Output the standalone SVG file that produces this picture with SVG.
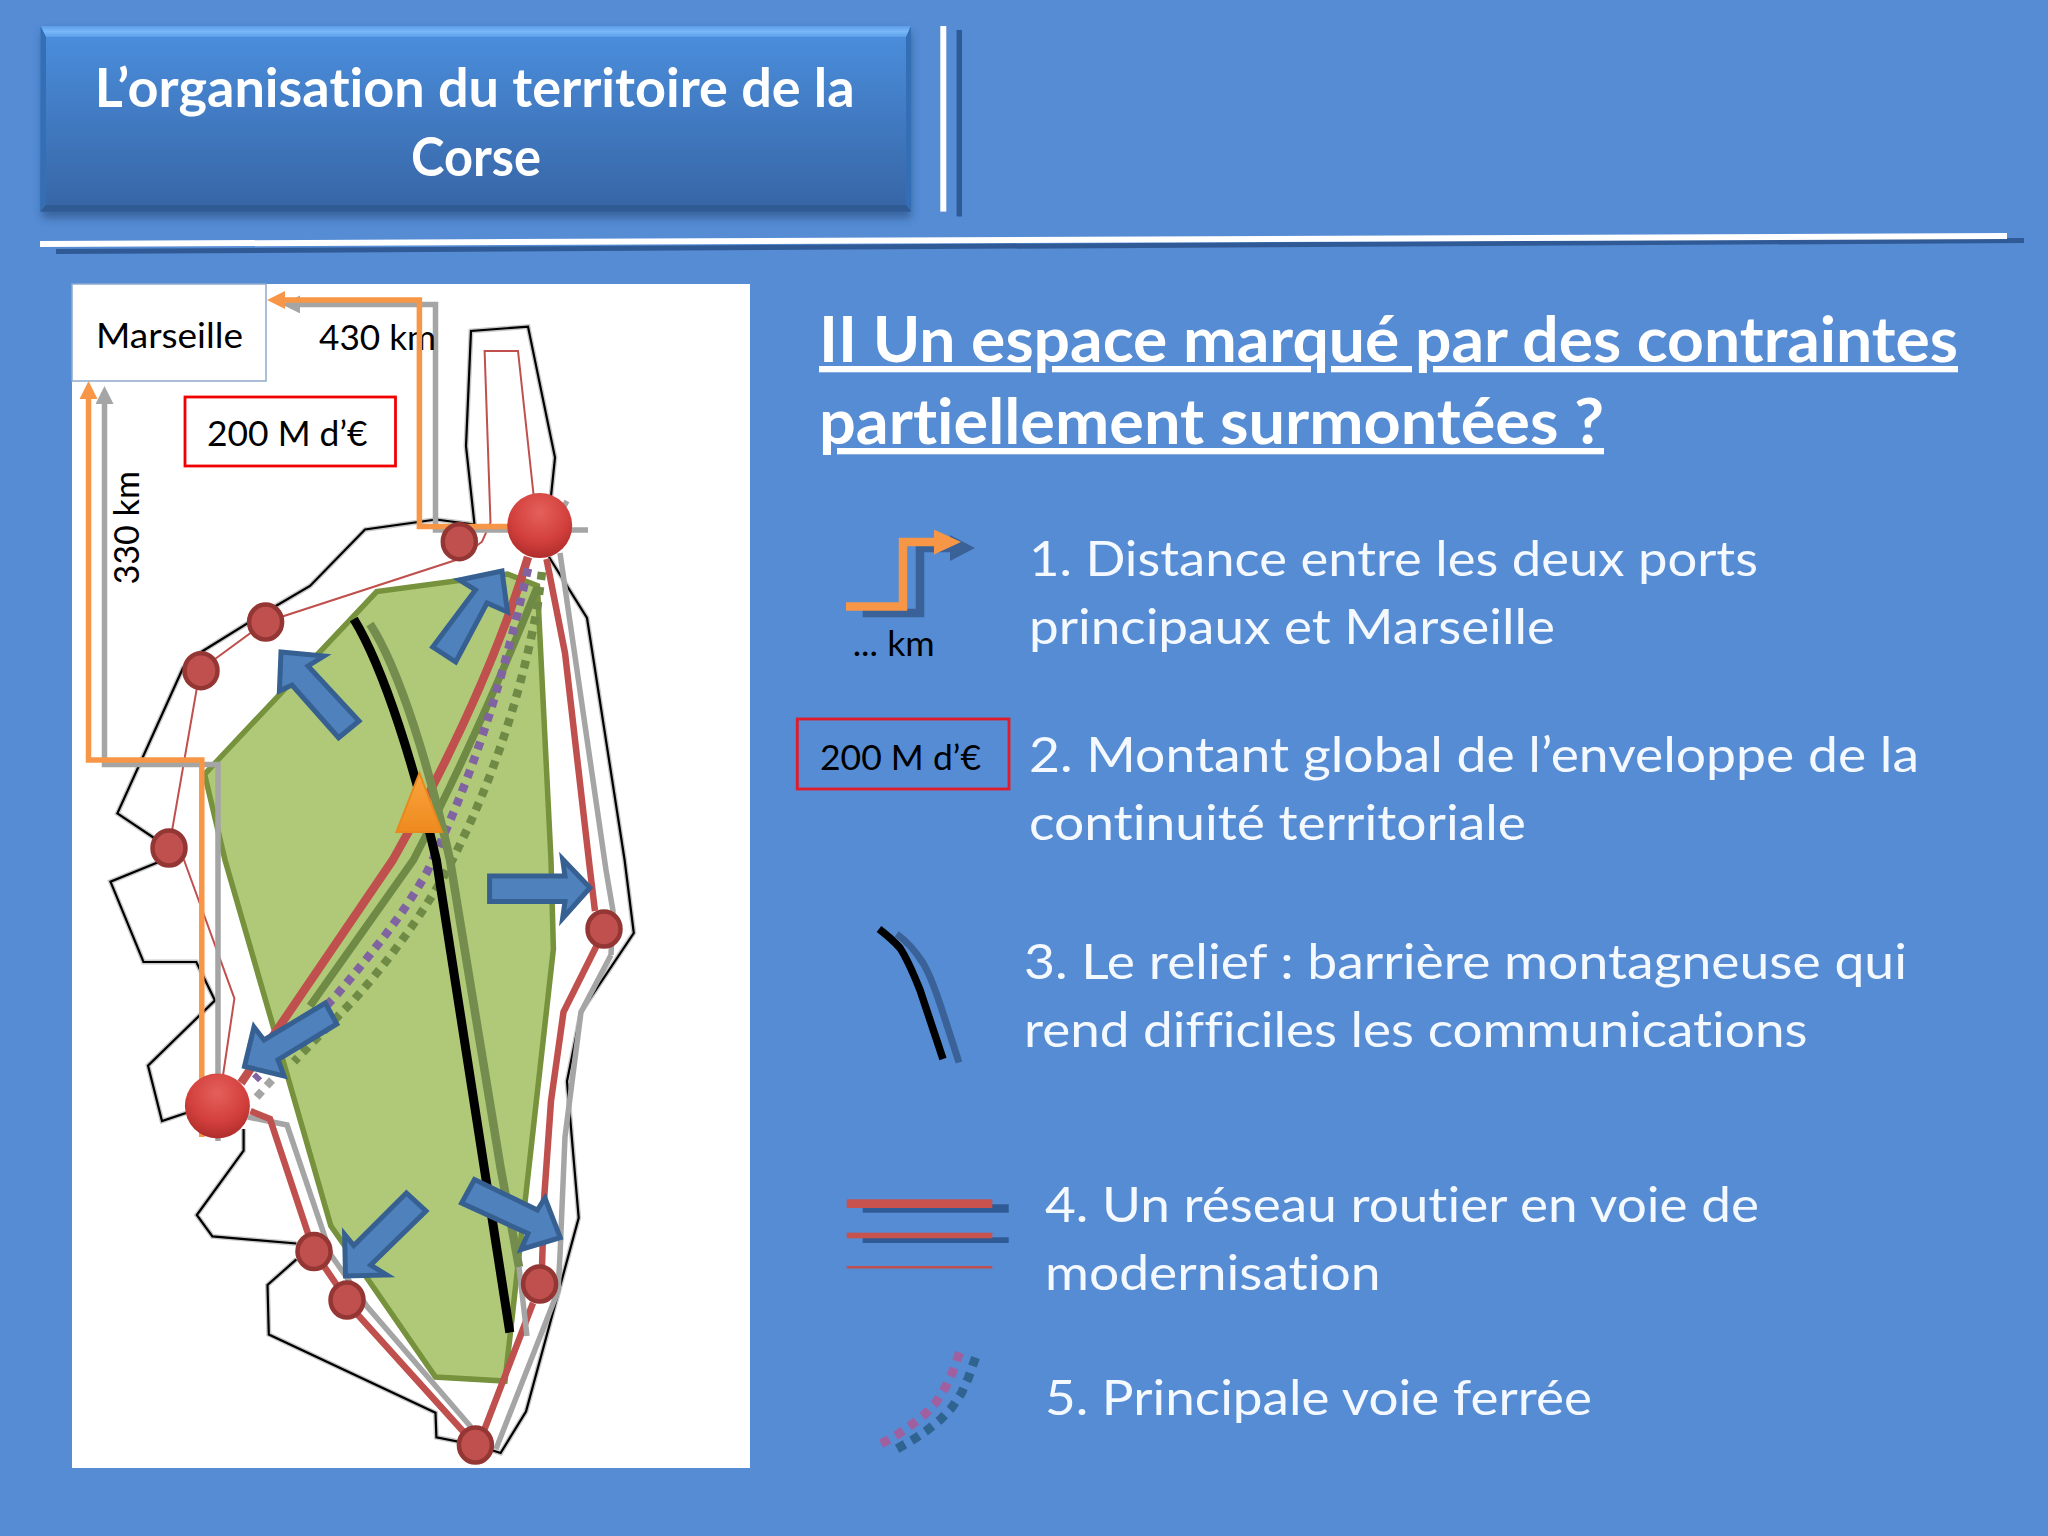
<svg xmlns="http://www.w3.org/2000/svg" width="2048" height="1536" viewBox="0 0 2048 1536">
<style>
text{font-family:"Lato","Liberation Sans",sans-serif;font-variant-ligatures:none}
.hd{font-size:53px;font-weight:700;fill:#fff}
.ti{font-size:63px;font-weight:700;fill:#fff;text-decoration:underline}
.li{font-size:48px;fill:#f4f8ff}
.sm{font-size:35px;fill:#000}
.out{fill:none;stroke:#000;stroke-width:2.2;stroke-linejoin:miter}
.halo{fill:none;stroke:#c8c8c8;stroke-width:5}
.rd{fill:none;stroke:#C0504D;stroke-width:6.5;stroke-linejoin:miter}
.rw{fill:none;stroke:#C0504D;stroke-width:8.5}
.rt{fill:none;stroke:#C0504D;stroke-width:2}
.gy{fill:none;stroke:#A5A5A5;stroke-width:5.5}
.ol{fill:none;stroke:#6F8A45;stroke-width:7.5}
.pu{fill:none;stroke:#8064A2;stroke-width:8.5;stroke-dasharray:8 7}
.od{fill:none;stroke:#6F8A45;stroke-width:8.5;stroke-dasharray:8 7}
.ar{fill:#4F81BD;stroke:#376092;stroke-width:5;stroke-linejoin:miter}
.nd{fill:#C0504D;stroke:#943634;stroke-width:4.5}
.pt{fill:url(#port)}
.red{fill:none;stroke:#F00000;stroke-width:2.8}
</style>
<defs>
<linearGradient id="hdg" x1="0" y1="0" x2="0" y2="1"><stop offset="0" stop-color="#4B8FDE"/><stop offset="1" stop-color="#3765A5"/></linearGradient>
<linearGradient id="bev" x1="0" y1="0" x2="0" y2="1"><stop offset="0" stop-color="#5C9CE8"/><stop offset="0.5" stop-color="#78B8F8"/><stop offset="1" stop-color="#5C9EEA"/></linearGradient>
<linearGradient id="tri" x1="0" y1="0" x2="0" y2="1"><stop offset="0" stop-color="#F9A53F"/><stop offset="1" stop-color="#EE8A1E"/></linearGradient>
<radialGradient id="port" cx="0.5" cy="0.3" r="0.75"><stop offset="0" stop-color="#E5605A"/><stop offset="0.6" stop-color="#D23F3C"/><stop offset="1" stop-color="#A82A28"/></radialGradient>
<filter id="sh" x="-5%" y="-10%" width="110%" height="125%"><feGaussianBlur stdDeviation="4"/></filter>
<marker id="mo" markerUnits="userSpaceOnUse" markerWidth="18" markerHeight="18" viewBox="0 0 18 18" refX="0" refY="9" orient="auto"><path d="M0 0L18 9L0 18Z" fill="#F79646"/></marker>
<marker id="mg" markerUnits="userSpaceOnUse" markerWidth="18" markerHeight="18" viewBox="0 0 18 18" refX="0" refY="9" orient="auto"><path d="M0 0L18 9L0 18Z" fill="#A5A5A5"/></marker>
<marker id="lo" markerUnits="userSpaceOnUse" markerWidth="27" markerHeight="25" viewBox="0 0 27 25" refX="0" refY="12.500" orient="auto"><path d="M0 0L27 12.500L0 25Z" fill="#F79646"/></marker>
<marker id="ld" markerUnits="userSpaceOnUse" markerWidth="25" markerHeight="26" viewBox="0 0 25 26" refX="0" refY="13" orient="auto"><path d="M0 0L25 13L0 26Z" fill="#3A6298"/></marker>
</defs>
<rect width="2048" height="1536" fill="#558CD4"/>

<g id="header">
<rect x="42" y="32" width="869" height="186" fill="#22436f" opacity="0.55" filter="url(#sh)"/>
<rect x="40.500" y="26" width="870.500" height="185.600" fill="url(#hdg)"/>
<polygon points="40.500,26 911,26 906,37 46,37" fill="url(#bev)"/>
<polygon points="40.500,26 46,37 46,205 40.500,211.600" fill="#346FB5"/>
<polygon points="911,26 906,37 906,205 911,211.600" fill="#346FB5"/>
<polygon points="40.500,211.600 46,205 906,205 911,211.600" fill="#2F5A94"/>
<text class="hd" x="94.700" y="107" textLength="760" lengthAdjust="spacingAndGlyphs">L’organisation du territoire de la</text>
<text class="hd" x="411" y="176" textLength="130" lengthAdjust="spacingAndGlyphs">Corse</text>
</g>
<g id="rules">
<rect x="956.600" y="30" width="5.400" height="186.500" fill="#2F5A96"/>
<rect x="940.300" y="26" width="6" height="185.600" fill="#fff"/>
<polygon points="56,249 2024,238 2024,243 56,254" fill="#2F5A96"/>
<polygon points="40,241 2007,233 2007,239 40,247" fill="#fff"/>
</g>

<g id="map">
<rect x="72" y="284" width="678" height="1184" fill="#fff"/>
<polygon id="zone" points="507.500,574 537.400,585.700 551,860 553.400,949 505,1381 435.500,1377 330.800,1225.700 225,860 204.600,774.400 216,762 376.700,591.500" fill="#B0C978" stroke="#76923C" stroke-width="5.500"/>
<path class="halo" d="M551 496L555 457.500L528 326.600L471 331L466 446L474.500 524.500L436 519.500L365 529.500L310 586L265.600 612L200 652.700L183 668L117.400 813.400L169 848M158.700 862L110.500 881.700L143.500 962L196.300 962L215 1000.400L148 1065.600L162 1121L186 1113M243.600 1129L243.600 1150.600L196.800 1215L212.400 1236.400L296.400 1243.500M296.400 1259.400L267.500 1285L268.800 1334.500L435.500 1412.800L436.400 1437.300L475.400 1445L500.600 1453L526 1411.600L578.700 1217.800L567 1081.400L581 1012L633.800 933L624.600 860L587 618L549 557"/>
<path class="out" d="M551 496L555 457.500L528 326.600L471 331L466 446L474.500 524.500L436 519.500L365 529.500L310 586L265.600 612L200 652.700L183 668L117.400 813.400L169 848M158.700 862L110.500 881.700L143.500 962L196.300 962L215 1000.400L148 1065.600L162 1121L186 1113M243.600 1129L243.600 1150.600L196.800 1215L212.400 1236.400L296.400 1243.500M296.400 1259.400L267.500 1285L268.800 1334.500L435.500 1412.800L436.400 1437.300L475.400 1445L500.600 1453L526 1411.600L578.700 1217.800L567 1081.400L581 1012L633.800 933L624.600 860L587 618L549 557"/>
</g>

<g id="connectors">
<path class="gy" d="M567 501L545 540M560 553L606 870L613 911L611 955M611 955L581 1012L565 1137L560 1255L558 1291L496 1449M471 1427L367.500 1307L331 1255L287 1125L248 1117"/>
<path class="rt" d="M533.700 496L518 351L484.600 351L490.500 522.600L482 541.700L459 559L265.600 622L200 670L169 848L184 860L234.400 998.400L223 1075.500"/>
<path class="rd" d="M546.500 559L565 653L590 870L595 911M597 945L563.500 1012L551 1101L544 1200L542 1267M533 1303L484.600 1429M475.400 1445L358 1315M347 1300L314 1251.500L270 1119L250.500 1111"/>
<path class="ol" d="M537 587.600C500 680 460 770 413.400 860L310 1006"/>
<path class="rw" d="M528 557C500 650 455 750 392.800 860L241 1083"/>
<path class="od" d="M542 572L537.400 606.800C520 700 490 790 443 877.800C415 925 385 965 353.800 1000L294 1061.600"/>
<path class="pu" d="M528 568.500C505 670 480 760 427 872C400 920 370 955 335.400 996.400L255 1079.400"/>
<path class="gy" style="stroke-width:8;stroke-dasharray:8 7" d="M272 1080L254 1100"/>
<path fill="none" stroke="#748D4E" stroke-width="8.500" d="M370 624C400 670 430 770 450 860L500.600 1168L519 1267"/>
<path class="gy" d="M519 1267L527 1336"/>
<path fill="none" stroke="#000" stroke-width="9" d="M353.800 619C385 670 415 770 436.400 860L509.800 1332.500"/>
<path class="gy" d="M588 530H435.500V304.400H300" marker-end="url(#mg)"/>
<path class="gy" d="M218 1141V764.400H104.500V404" marker-end="url(#mg)"/>
</g>

<g id="label-430"><text class="sm" x="319" y="349.600" textLength="117" lengthAdjust="spacingAndGlyphs">430 km</text></g>
<g id="connectors-orange">
<path fill="none" stroke="#F79646" stroke-width="5.500" d="M539.700 526.400H419.400V300H285" marker-end="url(#mo)"/>
<path fill="none" stroke="#F79646" stroke-width="5.500" d="M201.800 1137V760H88.500V399" marker-end="url(#mo)"/>
</g>

<g id="marseille">
<rect x="72" y="284" width="194" height="97" fill="#fff" stroke="#8FA9CC" stroke-width="1.500"/>
<text class="sm" x="96" y="348" textLength="147" lengthAdjust="spacingAndGlyphs">Marseille</text>
</g>
<g id="budget">
<rect class="red" x="185" y="397" width="210.500" height="69"/>
<text class="sm" x="207" y="446" textLength="160.500" lengthAdjust="spacingAndGlyphs">200 M d’€</text>
</g>
<g id="label-330"><text class="sm" transform="translate(139 584.600) rotate(-90)" textLength="113.600" lengthAdjust="spacingAndGlyphs">330 km</text></g>

<g id="arrows">
<polygon class="ar" points="432.700,647 455.700,662 487,603 507.500,612 502,571 459.300,580 475.400,590"/>
<polygon class="ar" points="359,721 338.600,737.700 292,685 279.400,691 281,652 324,656 308,666"/>
<polygon class="ar" points="489.600,876 565,876 562.600,859 590,887.700 562.600,918.500 565,901.500 489.600,901.500"/>
<polygon class="ar" points="325.300,1003 336.800,1024 278,1059.700 284,1076 244.500,1066.400 254,1027 264,1040"/>
<polygon class="ar" points="406.500,1193 426,1211 370.700,1265 386.800,1275 345.500,1276 344.600,1234.400 353.800,1245.500"/>
<polygon class="ar" points="474.500,1179.500 461.600,1203 528,1233.600 521,1249.500 560.300,1237.600 545,1198 537.400,1210"/>
</g>

<g id="corte"><polygon points="419.400,773 396.400,832 442,832" fill="url(#tri)" stroke="#E8881E" stroke-width="2"/></g>
<g id="ports-small">
<g id="n-a"><ellipse class="nd" cx="459.300" cy="541.700" rx="16.500" ry="17.500"/></g>
<g id="n-b"><ellipse class="nd" cx="265.600" cy="622" rx="16.500" ry="17.500"/></g>
<g id="n-c"><ellipse class="nd" cx="201" cy="670.700" rx="16.500" ry="17.500"/></g>
<g id="n-d"><ellipse class="nd" cx="169" cy="848" rx="16.500" ry="17.500"/></g>
<g id="n-e"><ellipse class="nd" cx="604" cy="929" rx="16.500" ry="17.500"/></g>
<g id="n-f"><ellipse class="nd" cx="314" cy="1251.500" rx="16.500" ry="17.500"/></g>
<g id="n-g"><ellipse class="nd" cx="347" cy="1300" rx="16.500" ry="17.500"/></g>
<g id="n-h"><ellipse class="nd" cx="539.600" cy="1284" rx="16.500" ry="17.500"/></g>
<g id="n-i"><ellipse class="nd" cx="475.400" cy="1445" rx="16.500" ry="17.500"/></g>
</g>
<g id="port-bastia"><ellipse class="pt" cx="539.700" cy="525.600" rx="32.500" ry="32.500"/></g>
<g id="port-ajaccio"><ellipse class="pt" cx="217.400" cy="1106" rx="32.500" ry="32.500"/></g>

<g id="title">
<text class="ti" x="819" y="362" textLength="1139" lengthAdjust="spacingAndGlyphs">II Un espace marqué par des contraintes</text>
<text class="ti" x="819" y="444" textLength="785" lengthAdjust="spacingAndGlyphs">partiellement surmontées ?</text>
</g>

<g id="legend-1">
<path fill="none" stroke="#3A6298" stroke-width="8.500" d="M862.700 613H920V548H950" marker-end="url(#ld)"/>
<path fill="none" stroke="#F79646" stroke-width="8.500" d="M846 606.400H903V542H934" marker-end="url(#lo)"/>
<text class="sm" x="852.700" y="656" textLength="82" lengthAdjust="spacingAndGlyphs">... km</text>
<text class="li" x="1029" y="576" textLength="729" lengthAdjust="spacingAndGlyphs">1. Distance entre les deux ports</text>
<text class="li" x="1029" y="644" textLength="526" lengthAdjust="spacingAndGlyphs">principaux et Marseille</text>
</g>
<g id="legend-2">
<rect x="797.300" y="719" width="211.700" height="70" fill="none" stroke="#E01B2B" stroke-width="2.800"/>
<text class="sm" x="820" y="770" textLength="161" lengthAdjust="spacingAndGlyphs">200 M d’€</text>
<text class="li" x="1029" y="772" textLength="890" lengthAdjust="spacingAndGlyphs">2. Montant global de l’enveloppe de la</text>
<text class="li" x="1029" y="840" textLength="497" lengthAdjust="spacingAndGlyphs">continuité territoriale</text>
</g>
<g id="legend-3">
<path fill="none" stroke="#3A6298" stroke-width="7" d="M896.700 934C908 942 916 952 923 963C932 978 938 998 943 1013L959 1062.500"/>
<path fill="none" stroke="#000" stroke-width="7.500" d="M879 929C888 936 894 941 900 948C908 960 914 975 920 990L943 1059"/>
<text class="li" x="1024" y="979" textLength="883" lengthAdjust="spacingAndGlyphs">3. Le relief : barrière montagneuse qui</text>
<text class="li" x="1024" y="1047" textLength="783.500" lengthAdjust="spacingAndGlyphs">rend difficiles les communications</text>
</g>
<g id="legend-4">
<rect x="862.700" y="1204.300" width="146" height="8.400" fill="#2F5A96"/>
<rect x="846.700" y="1199.300" width="145.600" height="8.700" fill="#C8524D"/>
<rect x="862.700" y="1237.300" width="146" height="5.700" fill="#2F5A96"/>
<rect x="846.700" y="1232.700" width="145.600" height="5.600" fill="#C8524D"/>
<rect x="846.700" y="1266" width="145.600" height="2.500" fill="#C0504D"/>
<text class="li" x="1045" y="1222" textLength="714" lengthAdjust="spacingAndGlyphs">4. Un réseau routier en voie de</text>
<text class="li" x="1045" y="1290" textLength="335.600" lengthAdjust="spacingAndGlyphs">modernisation</text>
</g>
<g id="legend-5">
<path fill="none" stroke="#A0609F" stroke-width="9" stroke-dasharray="9 7.500" d="M959.500 1352.500L952.300 1372.700L945 1388L936 1402.300L924.700 1414.300L910.700 1425.300L897 1435L879 1445"/>
<path fill="none" stroke="#2F6490" stroke-width="9" stroke-dasharray="9 7.500" d="M975.500 1357.500L968.300 1378L961.300 1393.300L952 1407.300L940.300 1419.700L927 1430.300L913 1439.700L895 1450"/>
<text class="li" x="1045" y="1415" textLength="547" lengthAdjust="spacingAndGlyphs">5. Principale voie ferrée</text>
</g>
</svg>
